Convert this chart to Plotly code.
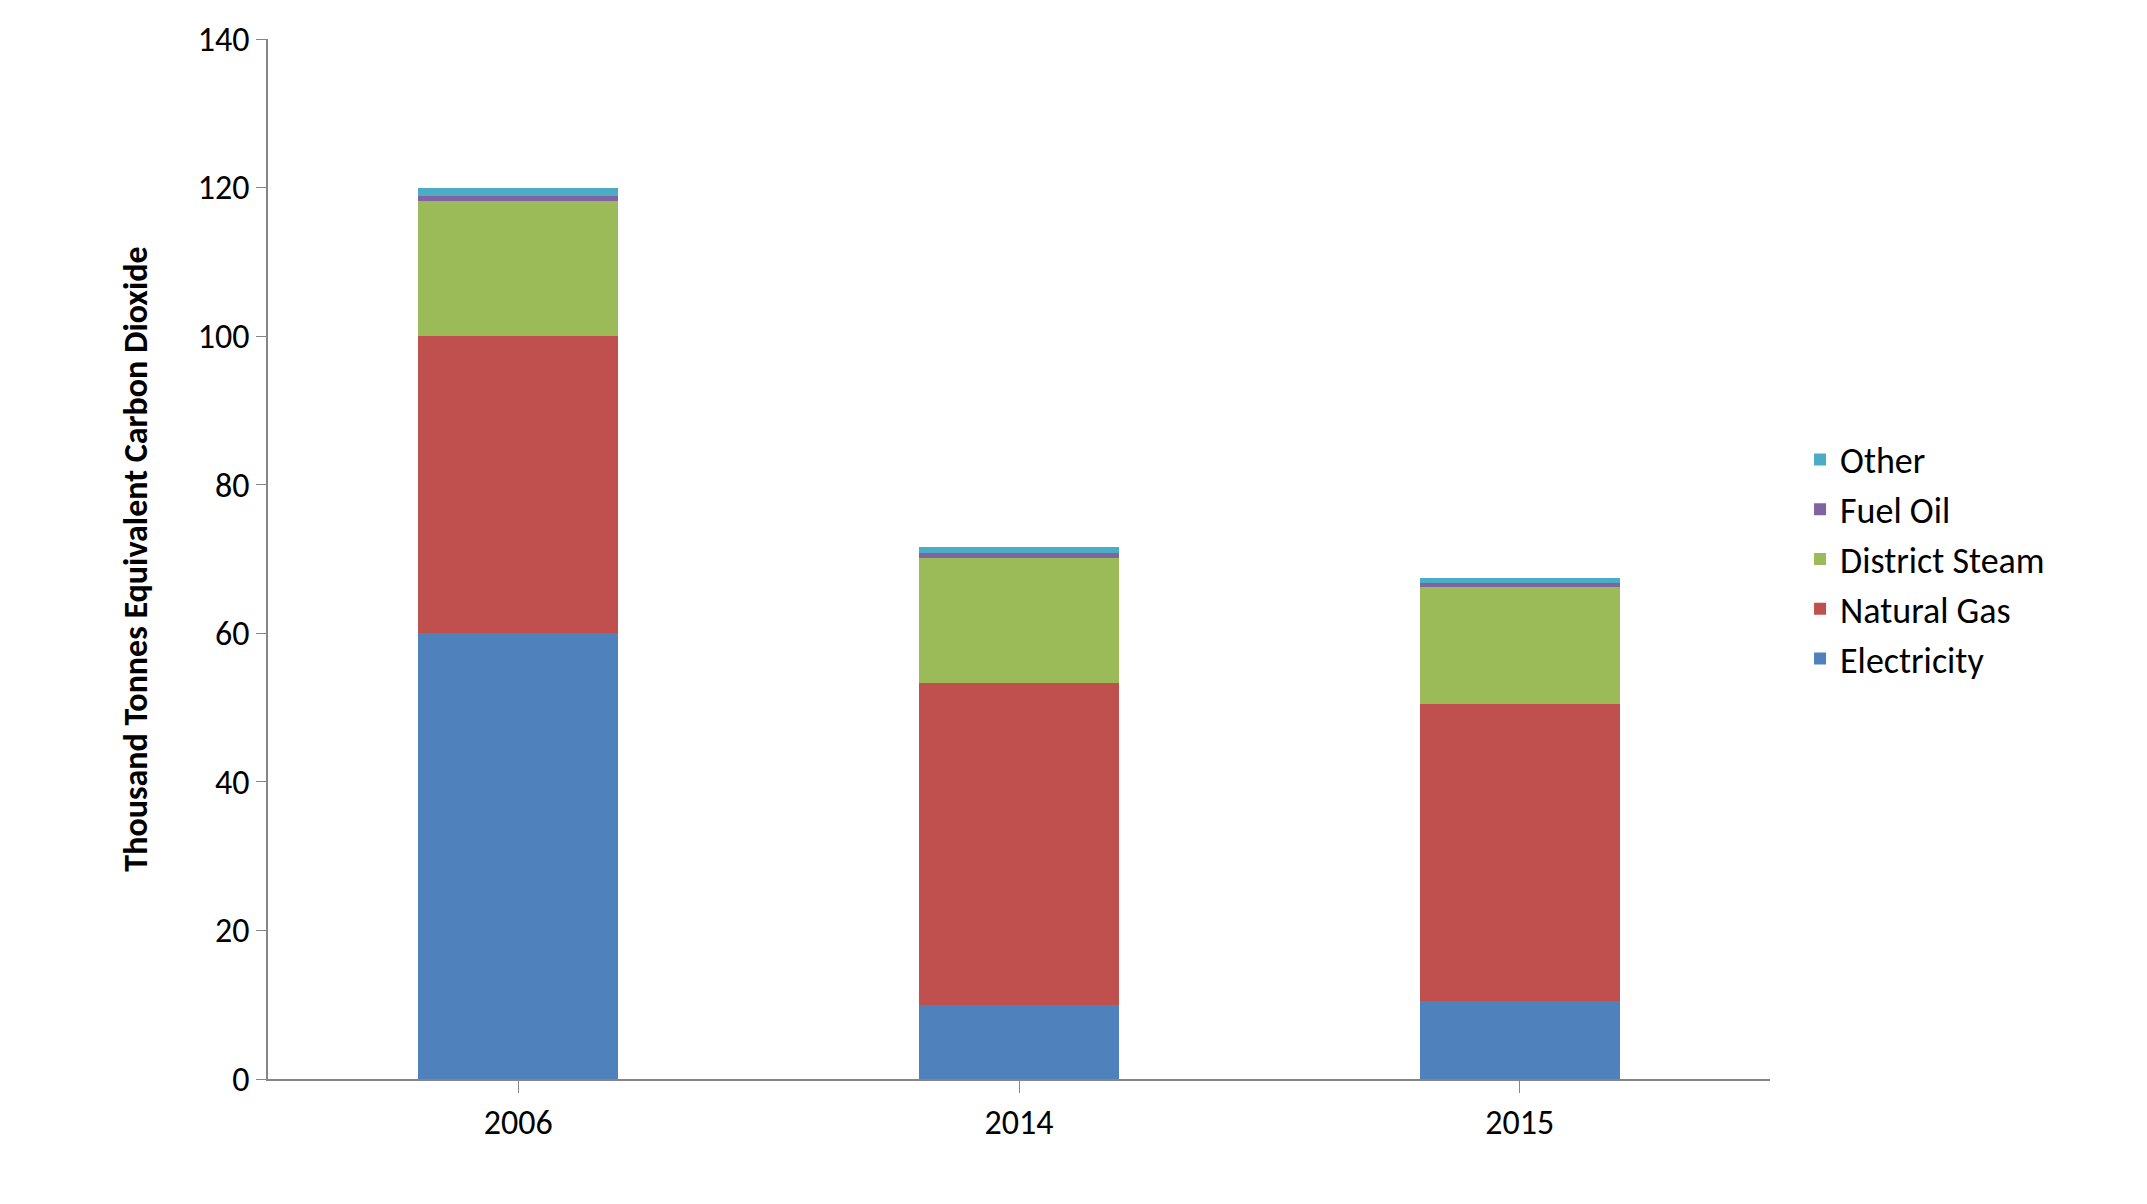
import plotly.graph_objects as go

years = ["2006", "2014", "2015"]
electricity = [60.1, 10.0, 10.5]
natural_gas = [39.9, 43.3, 40.0]
district_steam = [18.2, 16.8, 15.7]
fuel_oil = [0.6, 0.7, 0.6]
other = [1.1, 0.8, 0.7]

series = [
    ("Electricity", electricity, "#4F81BD"),
    ("Natural Gas", natural_gas, "#C0504D"),
    ("District Steam", district_steam, "#9BBB59"),
    ("Fuel Oil", fuel_oil, "#8064A2"),
    ("Other", other, "#4BACC6"),
]

fig = go.Figure()
for name, vals, col in series:
    fig.add_trace(go.Bar(x=years, y=vals, name=name, marker=dict(color=col, line=dict(width=0)), width=0.4))

font = "Calibri, Carlito, 'Open Sans', sans-serif"
fig.update_layout(
    barmode="stack",
    width=2147, height=1204,
    paper_bgcolor="white", plot_bgcolor="white",
    margin=dict(l=260, r=385, t=31, b=133),
    font=dict(family=font, size=34, color="black"),
    legend=dict(x=1.02, y=0.5, yanchor="middle", traceorder="reversed",
                font=dict(size=36), itemsizing="constant", tracegroupgap=0),
    xaxis=dict(showline=True, linecolor="#868686", linewidth=1.5, ticks="outside",
               tickcolor="#868686", ticklen=12, tickfont=dict(size=34)),
    yaxis=dict(range=[0, 140], dtick=20, showline=True, linecolor="#868686", linewidth=1.5,
               ticks="outside", tickcolor="#868686", ticklen=10, showgrid=False,
               tickfont=dict(size=34),
               title=dict(text="<b>Thousand Tonnes Equivalent Carbon Dioxide</b>", font=dict(size=34), standoff=40)),
    shapes=[dict(type="rect", xref="paper", yref="paper", x0=-0.185, x1=1.5, y0=-0.17, y1=1.035,
                 line=dict(color="#868686", width=2))],
)
fig.write_html("out.html")
